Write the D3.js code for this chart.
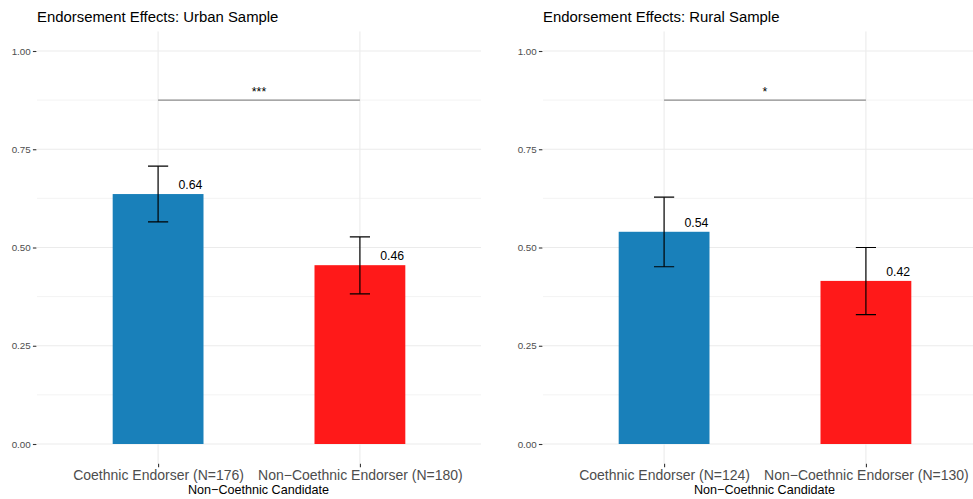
<!DOCTYPE html>
<html>
<head>
<meta charset="utf-8">
<script src="https://cdn.jsdelivr.net/npm/d3@7"></script>
<style>
  html, body { margin: 0; padding: 0; background: #fff; }
  svg { display: block; font-family: "Liberation Sans", Arial, Helvetica, sans-serif; }
</style>
</head>
<body>
<svg id="chart" width="973" height="499"></svg>
<script>
// ---- Data ----
const panelTitles = ["Endorsement Effects: Urban Sample", "Endorsement Effects: Rural Sample"];
const categories = ["Coethnic Endorser", "Non\u2212Coethnic Endorser"];
const urbanN = [176, 180];
const ruralN = [124, 130];
const urbanMean = [0.636, 0.455];
const urbanLower = [0.565, 0.382];
const urbanUpper = [0.707, 0.527];
const ruralMean = [0.540, 0.415];
const ruralLower = [0.451, 0.329];
const ruralUpper = [0.628, 0.500];
const urbanLabels = ["0.64", "0.46"];
const ruralLabels = ["0.54", "0.42"];
const sigBracketY = [0.875, 0.875];
const sigStars = ["***", "*"];
const yTicks = [0, 0.25, 0.5, 0.75, 1];
const yTickLabels = ["0.00", "0.25", "0.50", "0.75", "1.00"];
const yMinorTicks = [0.125, 0.375, 0.625, 0.875];
const xAxisTitle = "Non\u2212Coethnic Candidate";
const barColors = ["rgb(25,128,186)", "rgb(255,25,25)"];

const panels = [
  { title: panelTitles[0], n: urbanN, mean: urbanMean, lo: urbanLower, hi: urbanUpper, labels: urbanLabels, sigY: sigBracketY[0], stars: sigStars[0], left: 37 },
  { title: panelTitles[1], n: ruralN, mean: ruralMean, lo: ruralLower, hi: ruralUpper, labels: ruralLabels, sigY: sigBracketY[1], stars: sigStars[1], left: 543 }
];

const svg = d3.select("#chart");
const panelW = 444;
const panelTop = 31.35, panelBottom = 463.65;

panels.forEach(p => {
  const g = svg.append("g");
  const cats = categories.map((c, i) => `${c} (N=${p.n[i]})`);
  // ggplot discrete: positions 1..2 on continuous range [0.4, 2.6]
  const xc = d3.scaleLinear().domain([0.4, 2.6]).range([p.left, p.left + panelW]);
  const y = d3.scaleLinear().domain([-0.05, 1.05]).range([panelBottom, panelTop]);
  const unit = xc(2) - xc(1);

  const clipId = "clip" + p.left;
  svg.append("clipPath").attr("id", clipId).append("rect")
    .attr("x", p.left).attr("y", panelTop).attr("width", panelW).attr("height", panelBottom - panelTop);
  const pg = g.append("g").attr("clip-path", `url(#${clipId})`);

  pg.selectAll(".minor").data(yMinorTicks).join("line")
    .attr("x1", p.left).attr("x2", p.left + panelW)
    .attr("y1", d => y(d)).attr("y2", d => y(d))
    .attr("stroke", "#ebebeb").attr("stroke-width", 0.6);
  pg.selectAll(".major").data(yTicks).join("line")
    .attr("x1", p.left).attr("x2", p.left + panelW)
    .attr("y1", d => y(d)).attr("y2", d => y(d))
    .attr("stroke", "#ebebeb").attr("stroke-width", 1.1);
  pg.selectAll(".vgrid").data(cats).join("line")
    .attr("x1", (d, i) => xc(i + 1)).attr("x2", (d, i) => xc(i + 1))
    .attr("y1", panelTop).attr("y2", panelBottom)
    .attr("stroke", "#ebebeb").attr("stroke-width", 1.1);

  const bw = 0.45 * unit;
  pg.selectAll(".bar").data(p.mean).join("rect")
    .attr("x", (d, i) => xc(i + 1) - bw / 2)
    .attr("width", bw)
    .attr("y", d => y(d))
    .attr("height", d => y(0) - y(d))
    .attr("fill", (d, i) => barColors[i]);

  const cw = 0.05 * unit;
  p.mean.forEach((m, i) => {
    const cx = xc(i + 1);
    const eg = pg.append("g").attr("stroke", "#000").attr("stroke-width", 1.2);
    eg.append("line").attr("x1", cx).attr("x2", cx).attr("y1", y(p.lo[i])).attr("y2", y(p.hi[i]));
    eg.append("line").attr("x1", cx - cw).attr("x2", cx + cw).attr("y1", y(p.lo[i])).attr("y2", y(p.lo[i]));
    eg.append("line").attr("x1", cx - cw).attr("x2", cx + cw).attr("y1", y(p.hi[i])).attr("y2", y(p.hi[i]));
  });

  pg.selectAll(".vl").data(p.labels).join("text")
    .attr("x", (d, i) => xc(i + 1) + 0.16 * unit)
    .attr("y", (d, i) => y(p.mean[i]) - 4.8)
    .attr("text-anchor", "middle")
    .attr("font-size", 12.3)
    .attr("fill", "#000")
    .text(d => d);

  pg.append("line")
    .attr("x1", xc(1)).attr("x2", xc(2))
    .attr("y1", y(p.sigY)).attr("y2", y(p.sigY))
    .attr("stroke", "#8c8c8c").attr("stroke-width", 1.1);
  pg.append("text")
    .attr("x", (xc(1) + xc(2)) / 2)
    .attr("y", y(p.sigY) - 4)
    .attr("text-anchor", "middle")
    .attr("font-size", 12.3)
    .attr("fill", "#000")
    .text(p.stars);

  const yAxis = d3.axisLeft(y).tickValues(yTicks).tickFormat((d, i) => yTickLabels[i]).tickSize(3.5).tickPadding(2.2);
  const ya = g.append("g").attr("transform", `translate(${p.left - 0.6},0)`).call(yAxis);
  ya.select(".domain").remove();
  ya.selectAll(".tick line").attr("stroke", "#333").attr("stroke-width", 1.1);
  ya.selectAll(".tick text").attr("fill", "#4d4d4d").attr("font-size", 9.8);
  ya.attr("font-family", null).attr("font-size", null);

  const xpos = d3.scalePoint().domain(cats).range([xc(1), xc(2)]);
  const xAxis = d3.axisBottom(xpos).tickSize(3.5).tickPadding(2.5);
  const xa = g.append("g").attr("transform", `translate(0,${panelBottom})`).call(xAxis);
  xa.select(".domain").remove();
  xa.selectAll(".tick line").attr("stroke", "#333").attr("stroke-width", 1.1);
  xa.selectAll(".tick text").attr("fill", "#4d4d4d").attr("font-size", 14);
  xa.attr("font-family", null).attr("font-size", null);

  g.append("text")
    .attr("x", p.left + panelW / 2 - 0.5)
    .attr("y", 494)
    .attr("text-anchor", "middle")
    .attr("font-size", 12.6)
    .attr("fill", "#000")
    .text(xAxisTitle);

  g.append("text")
    .attr("x", p.left)
    .attr("y", 22)
    .attr("font-size", 14.9)
    .attr("fill", "#000")
    .text(p.title);
});
</script>
</body>
</html>
